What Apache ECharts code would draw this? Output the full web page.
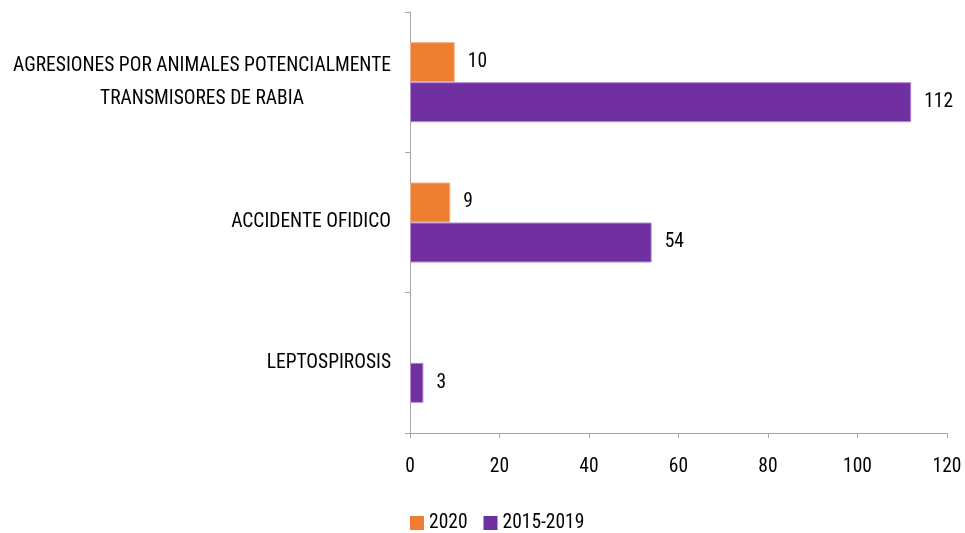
<!DOCTYPE html>
<html>
<head>
<meta charset="utf-8">
<script src="https://cdn.jsdelivr.net/npm/echarts@6/dist/echarts.min.js"></script>
<style>
  html, body { margin: 0; padding: 0; background: #fff; }
  #main { width: 965px; height: 533px; }
</style>
</head>
<body>
<div id="main"></div>
<script>
const categories = [
  'AGRESIONES POR ANIMALES POTENCIALMENTE\nTRANSMISORES DE RABIA',
  'ACCIDENTE OFIDICO',
  'LEPTOSPIROSIS'
]
const values2020 = [10, 9, null]
const values2015_2019 = [112, 54, 3]
const xTicks = [0, 20, 40, 60, 80, 100, 120]

const font = '"Roboto Condensed", "Noto Sans", sans-serif'
const fs = 19.5

var myChart = echarts.init(document.getElementById('main'))

let option = {
  animation: false,
  textStyle: { fontFamily: font },
  legend: {
    bottom: -5,
    left: 405,
    itemWidth: 14,
    itemHeight: 14,
    itemGap: 16,
    icon: 'rect',
    itemStyle: { borderWidth: 0 },
    textStyle: { fontFamily: font, fontSize: fs, color: '#000' },
    data: ['2020', '2015-2019'],
  },
  grid: {
    left: 410,
    right: 18,
    top: 12,
    bottom: 100,
    containLabel: false,
    outerBoundsMode: 'none',
  },
  xAxis: {
    type: 'value',
    min: xTicks[0],
    max: xTicks[xTicks.length - 1],
    interval: 20,
    axisLine: { show: true, lineStyle: { color: '#a6a6a6' } },
    axisTick: { show: true, length: 5, lineStyle: { color: '#a6a6a6' } },
    axisLabel: { fontFamily: font, fontSize: fs, color: '#000', margin: 24 },
    splitLine: { show: false },
  },
  yAxis: {
    type: 'category',
    inverse: true,
    data: categories,
    axisLine: { show: true, lineStyle: { color: '#a6a6a6' } },
    axisTick: { show: true, length: 5, lineStyle: { color: '#a6a6a6' } },
    axisLabel: {
      fontFamily: font,
      fontSize: fs,
      color: '#000',
      margin: 19,
      lineHeight: 33,
      formatter: function (v) {
        return v.split('\n').map(function (s) { return '{c|' + s + '}' }).join('\n')
      },
      rich: {
        c: { align: 'center', fontFamily: font, fontSize: fs, color: '#000', lineHeight: 33 },
      },
    },
  },
  series: [
    {
      name: '2020',
      type: 'bar',
      data: values2020,
      barWidth: 40,
      barGap: '0%',
      itemStyle: { color: '#ed7d31', borderColor: '#f4b183', borderWidth: 1 },
      label: { show: true, position: 'right', distance: 13, fontFamily: font, fontSize: fs, color: '#000' },
    },
    {
      name: '2015-2019',
      type: 'bar',
      data: values2015_2019,
      barWidth: 40,
      barGap: '0%',
      itemStyle: { color: '#7030a0', borderColor: '#b48bd6', borderWidth: 1 },
      label: { show: true, position: 'right', distance: 13, fontFamily: font, fontSize: fs, color: '#000' },
    },
  ],
}
myChart.setOption(option)
</script>
</body>
</html>
